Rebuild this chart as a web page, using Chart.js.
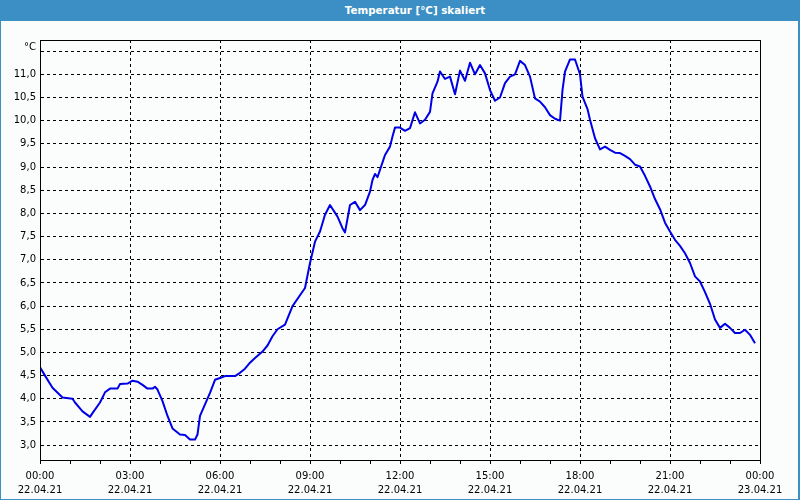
<!DOCTYPE html>
<html lang="de">
<head>
  <meta charset="UTF-8">
  <title>Temperatur [°C] skaliert</title>
  <script src="https://cdn.jsdelivr.net/npm/chart.js"></script>
  <style>
    body { margin: 0; }
    #frame { position: relative; width: 800px; height: 500px; background: #3c8fc4; }
    #titlebar { height: 21px; box-sizing: border-box; padding-left: 30px; text-align: center; color: #fff;
      font: bold 10.3px "DejaVu Sans", sans-serif; line-height: 21px; }
    #plot { position: absolute; left: 1px; top: 21px; width: 797px; height: 478px; background: #fbfdfd; }
  </style>
</head>
<body>

<div id="frame">
  <div id="titlebar">Temperatur [°C] skaliert</div>
  <div id="plot"><canvas id="tempChart" width="797" height="478"></canvas></div>
</div>

<script>
  // Messzeiten (22.04.21) und Temperaturwerte
  const times = [
    "00:00","00:10","00:25","00:45","01:05","01:10","01:25","01:40","01:45","02:00",
    "02:10","02:20","02:35","02:40","02:55","03:05","03:15","03:25","03:35","03:45",
    "03:50","03:55","04:05","04:15","04:25","04:40","04:50","05:00","05:10","05:15",
    "05:20","05:30","05:40","05:50","06:00","06:10","06:30","06:40","06:50","07:00",
    "07:10","07:25","07:35","07:45","07:55","08:10","08:25","08:50","09:00","09:10",
    "09:20","09:30","09:40","09:55","10:05","10:10","10:20","10:30","10:40","10:50",
    "11:00","11:05","11:10","11:15","11:25","11:30","11:40","11:45","11:50","12:00",
    "12:10","12:20","12:30","12:40","12:50","13:00","13:05","13:15","13:20","13:30",
    "13:40","13:50","14:00","14:10","14:20","14:30","14:40","14:50","15:00","15:10",
    "15:20","15:30","15:40","15:50","16:00","16:10","16:20","16:30","16:40","16:50",
    "17:00","17:10","17:20","17:25","17:30","17:40","17:50","18:00","18:05","18:15",
    "18:20","18:30","18:40","18:50","19:00","19:10","19:20","19:30","19:40","19:50",
    "20:00","20:10","20:20","20:30","20:40","20:50","21:00","21:10","21:20","21:30",
    "21:40","21:50","22:00","22:10","22:20","22:30","22:40","22:50","23:00","23:10",
    "23:20","23:30","23:40","23:50"
  ];
  const temps = [
    4.68, 4.50, 4.24, 4.03, 4.00, 3.92, 3.73, 3.61, 3.69, 3.92,
    4.14, 4.22, 4.22, 4.32, 4.33, 4.39, 4.37, 4.30, 4.22, 4.22,
    4.26, 4.20, 3.95, 3.63, 3.36, 3.23, 3.22, 3.12, 3.12, 3.23,
    3.63, 3.88, 4.13, 4.41, 4.45, 4.49, 4.49, 4.56, 4.65, 4.78,
    4.88, 5.02, 5.15, 5.35, 5.50, 5.60, 6.00, 6.39, 6.93, 7.39,
    7.61, 7.97, 8.18, 7.93, 7.68, 7.59, 8.18, 8.25, 8.07, 8.18,
    8.47, 8.72, 8.85, 8.78, 9.10, 9.26, 9.44, 9.66, 9.85, 9.85,
    9.78, 9.84, 10.18, 9.94, 10.02, 10.19, 10.59, 10.84, 11.06, 10.90,
    10.95, 10.57, 11.08, 10.86, 11.25, 11.00, 11.20, 11.02, 10.66, 10.43,
    10.50, 10.81, 10.95, 11.00, 11.29, 11.20, 10.95, 10.48, 10.41, 10.29,
    10.12, 10.04, 10.00, 10.66, 11.06, 11.32, 11.32, 11.00, 10.52, 10.25,
    10.02, 9.62, 9.38, 9.44, 9.37, 9.31, 9.30, 9.24, 9.17, 9.05,
    9.01, 8.81, 8.58, 8.31, 8.09, 7.80, 7.61, 7.43, 7.30, 7.14,
    6.93, 6.64, 6.53, 6.30, 6.05, 5.71, 5.53, 5.62, 5.53, 5.42,
    5.42, 5.49, 5.38, 5.20
  ];

  // Achsenbeschriftung
  const xTickHours = [0, 3, 6, 9, 12, 15, 18, 21, 24];
  const xTickTimes = ["00:00","03:00","06:00","09:00","12:00","15:00","18:00","21:00","00:00"];
  const xTickDates = ["22.04.21","22.04.21","22.04.21","22.04.21","22.04.21","22.04.21","22.04.21","22.04.21","23.04.21"];
  const yTicks = [3.0, 3.5, 4.0, 4.5, 5.0, 5.5, 6.0, 6.5, 7.0, 7.5, 8.0, 8.5, 9.0, 9.5, 10.0, 10.5, 11.0, 11.5];
  const yTickLabels = ["3,0","3,5","4,0","4,5","5,0","5,5","6,0","6,5","7,0","7,5","8,0","8,5","9,0","9,5","10,0","10,5","11,0",""];
  const unitLabel = "°C";

  const toHours = t => { const [h, m] = t.split(":").map(Number); return h + m / 60; };
  const FONT = { family: "DejaVu Sans", size: 10 };

  const framePlugin = {
    id: "frame",
    afterDraw(chart) {
      const { ctx, chartArea: a } = chart;
      ctx.save();
      ctx.strokeStyle = "#000";
      ctx.lineWidth = 1;
      ctx.strokeRect(Math.round(a.left) + 0.5, Math.round(a.top) + 0.5,
                     Math.round(a.right - a.left), Math.round(a.bottom - a.top));
      ctx.fillStyle = "#000";
      ctx.font = "10px 'DejaVu Sans'";
      ctx.textAlign = "right";
      ctx.textBaseline = "middle";
      ctx.fillText(unitLabel, a.left - 4, a.top + 7);
      ctx.restore();
    }
  };

  new Chart(document.getElementById("tempChart"), {
    type: "line",
    data: {
      datasets: [{
        data: times.map((t, i) => ({ x: toHours(t), y: temps[i] })),
        borderColor: "#0000e6",
        borderWidth: 2,
        pointRadius: 0,
        tension: 0,
        borderJoinStyle: "round"
      }]
    },
    options: {
      responsive: false,
      animation: false,
      layout: { padding: { top: 19, right: 38, left: 0, bottom: 0 } },
      plugins: { legend: { display: false }, tooltip: { enabled: false } },
      scales: {
        x: {
          type: "linear",
          min: 0,
          max: 24,
          afterFit: s => { s.height = 39; },
          afterBuildTicks: s => {
            s.ticks = [];
            for (let h = 0; h <= 24; h++) s.ticks.push({ value: h });
          },
          ticks: {
            autoSkip: false,
            maxRotation: 0,
            padding: 5,
            color: "#000",
            font: { ...FONT, lineHeight: 1.4 },
            callback: v => {
              const i = xTickHours.indexOf(v);
              return i < 0 ? "" : [xTickTimes[i], xTickDates[i]];
            }
          },
          grid: {
            color: c => (c.tick && c.tick.value % 3 === 0 ? "#000" : "rgba(0,0,0,0)"),
            tickColor: "#000",
            tickLength: 4,
            tickBorderDash: [],
            lineWidth: 1
          },
          border: { display: true, color: "#000", dash: [3, 3] }
        },
        y: {
          min: 2.68,
          max: 11.74,
          afterFit: s => { s.width = 39; },
          afterBuildTicks: s => { s.ticks = yTicks.map(v => ({ value: v })); },
          ticks: {
            padding: 4,
            color: "#000",
            font: FONT,
            callback: (v, i) => yTickLabels[i]
          },
          grid: { color: "#000", drawTicks: false, lineWidth: 1 },
          border: { display: true, color: "#000", dash: [3, 3] }
        }
      }
    },
    plugins: [framePlugin]
  });
</script>
</body>
</html>
